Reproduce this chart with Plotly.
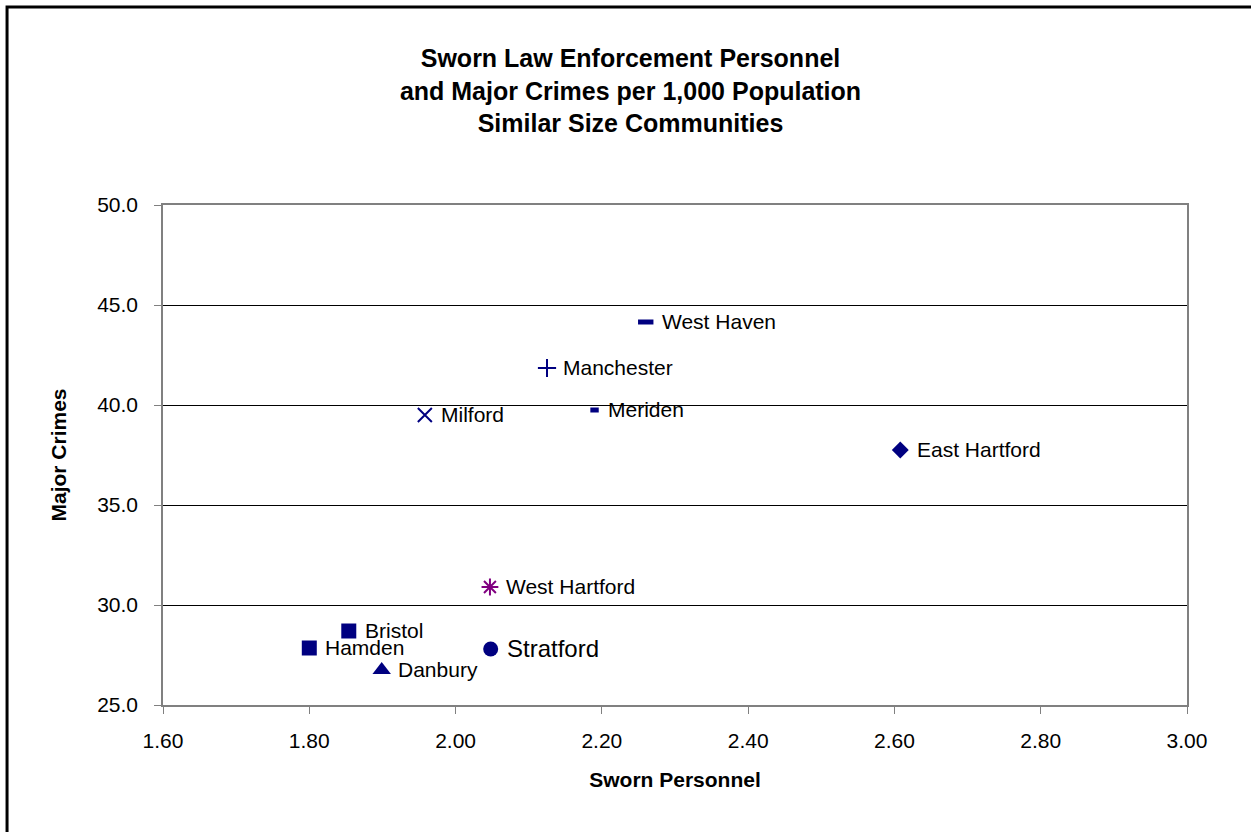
import plotly.graph_objects as go

# data
towns = ['West Haven', 'Manchester', 'Meriden', 'Milford', 'East Hartford',
         'West Hartford', 'Bristol', 'Hamden', 'Stratford', 'Danbury']
sworn = [2.26, 2.125, 2.19, 1.958, 2.608, 2.047, 1.854, 1.80, 2.048, 1.899]
crimes = [44.15, 41.85, 39.75, 39.5, 37.75, 30.9, 28.7, 27.85, 27.8, 26.75]

x_ticks = [1.6, 1.8, 2.0, 2.2, 2.4, 2.6, 2.8, 3.0]
y_ticks = [25, 30, 35, 40, 45, 50]

NAVY = '#000080'
PURPLE = '#800080'

# marker style per town: symbol, size, colour, outline width, label size, label shift
styles = {
    'West Haven':    ('line-ew', 11, NAVY, 5, 21, 14),
    'Manchester':    ('cross-thin', 13, NAVY, 2, 21, 14),
    'Meriden':       ('line-ew', 6, NAVY, 5, 21, 11),
    'Milford':       ('x-thin', 14, NAVY, 2, 21, 14),
    'East Hartford': ('diamond', 13, NAVY, 0, 21, 15),
    'West Hartford': ('asterisk', 14, PURPLE, 2, 21, 14),
    'Bristol':       ('square', 15, NAVY, 0, 21, 14),
    'Hamden':        ('square', 15, NAVY, 0, 21, 14),
    'Stratford':     ('circle', 15, NAVY, 0, 24, 14),
    'Danbury':       ('triangle-up', 16, NAVY, 0, 21, 14),
}

FONT = 'Liberation Sans, Arial, sans-serif'

fig = go.Figure()
labels = []

for town, xv, yv in zip(towns, sworn, crimes):
    sym, size, col, lw, fs, shift = styles[town]
    fig.add_trace(go.Scatter(
        x=[xv], y=[yv],
        mode='markers',
        marker=dict(symbol=sym, size=size, color=col,
                    line=dict(width=lw, color=col)),
        cliponaxis=False,
        showlegend=False,
        hoverinfo='text', text=[town],
    ))
    labels.append(dict(
        x=xv, y=yv, xref='x', yref='y',
        text=town, showarrow=False,
        xanchor='left', yanchor='middle', xshift=shift, yshift=1,
        font=dict(size=fs, color='black', family=FONT),
    ))

fig.update_layout(
    width=1251, height=832,
    margin=dict(l=163, r=64, t=205, b=127),
    paper_bgcolor='white',
    plot_bgcolor='white',
    font=dict(family=FONT, color='black', size=21),
    title=dict(
        text='Sworn Law Enforcement Personnel<br>and Major Crimes per 1,000 Population<br>Similar Size Communities',
        x=0.504, xanchor='center',
        y=0.919, yanchor='top',
        font=dict(size=25, family=FONT, color='black', weight='bold'),
    ),
    xaxis=dict(
        range=[1.6, 3.0],
        tickvals=x_ticks,
        tickformat='.2f',
        showgrid=False,
        zeroline=False,
        showline=True, linecolor='#808080', linewidth=1.5, mirror=True,
        ticks='outside', ticklen=7, tickcolor='#808080',
        tickfont=dict(size=21),
        ticklabelstandoff=9,
        title=dict(text='<b>Sworn Personnel</b>', font=dict(size=21), standoff=21),
    ),
    yaxis=dict(
        range=[25, 50],
        tickvals=y_ticks,
        tickformat='.1f',
        showgrid=True, gridcolor='black', gridwidth=1,
        zeroline=False,
        showline=True, linecolor='#808080', linewidth=1.5, mirror=True,
        ticks='outside', ticklen=7, tickcolor='#808080',
        tickfont=dict(size=21),
        ticklabelstandoff=12,
        title=dict(text='<b>Major Crimes</b>', font=dict(size=21), standoff=25),
    ),
    annotations=labels,
    shapes=[dict(
        type='rect', xref='paper', yref='paper',
        x0=-0.1523, x1=1.07, y0=-0.27, y1=1.396,
        line=dict(color='black', width=3),
        fillcolor='rgba(0,0,0,0)', layer='above',
    )],
)

fig.write_html('out.html', config={'displayModeBar': False},
               post_script="document.body.style.margin='0';")
